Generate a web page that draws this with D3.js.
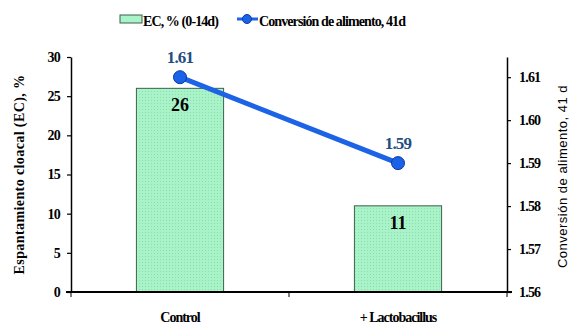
<!DOCTYPE html>
<html>
<head>
<meta charset="utf-8">
<script src="https://cdn.jsdelivr.net/npm/d3@7"></script>
<style>
  html, body { margin: 0; padding: 0; background: #fff; }
  svg { display: block; }
</style>
</head>
<body>
<svg id="chart" width="576" height="336"></svg>
<script>
// Categories and series
const categories = ["Control", "+ Lactobacillus"];
const ecValues = [26, 11];             // Espantamiento cloacal (EC), %
const conversionValues = [1.61, 1.59]; // Conversión de alimento, 41d
const leftTicks = [0, 5, 10, 15, 20, 25, 30];
const rightTicks = [1.56, 1.57, 1.58, 1.59, 1.60, 1.61];
const legendLabels = ["EC, % (0-14d)", "Conversión de alimento, 41d"];

const SERIF = "'Liberation Serif', 'Times New Roman', serif";
const SANS = "'Liberation Sans', Arial, sans-serif";
const serif = sel => sel.style("font-family", SERIF).style("font-weight", "bold");

const svg = d3.select("#chart");
const x0 = 71, x1 = 507;
const y0 = 292, y1 = 57;

const band = d3.scaleBand().domain(categories).range([x0, x1]);
const yL = d3.scaleLinear().domain([0, 30]).range([y0, y1]);
const yR = d3.scaleLinear().domain([1.56, 1.6147]).range([y0, y1]);

// Dotted texture for the bars
const defs = svg.append("defs");
const pat = defs.append("pattern").attr("id", "dots").attr("width", 3).attr("height", 3)
  .attr("patternUnits", "userSpaceOnUse");
pat.append("rect").attr("width", 3).attr("height", 3).attr("fill", "#a9f3c9");
pat.append("rect").attr("x", 1).attr("y", 1).attr("width", 1).attr("height", 1).attr("fill", "#90dcb1");

// Bars
const barW = band.bandwidth() * 0.4;
const cx = d => band(d) + band.bandwidth() / 2;
svg.append("g").selectAll("rect").data(categories).join("rect")
  .attr("x", d => cx(d) - barW / 2)
  .attr("y", (d, i) => yL(ecValues[i]))
  .attr("width", barW)
  .attr("height", (d, i) => yL(0) - yL(ecValues[i]))
  .attr("fill", "url(#dots)")
  .attr("stroke", "#3d5f4c")
  .attr("stroke-width", 1);

// Bar value labels
svg.append("g").selectAll("text").data(categories).join("text")
  .call(serif)
  .attr("x", cx)
  .attr("y", (d, i) => yL(ecValues[i]) + 23)
  .attr("text-anchor", "middle")
  .attr("font-size", 18)
  .attr("fill", "#000")
  .text((d, i) => ecValues[i]);

// Left axis
const axL = svg.append("g").attr("transform", `translate(${x0},0)`)
  .call(d3.axisLeft(yL).tickValues(leftTicks).tickSize(4).tickSizeOuter(0));
// Right axis
const axR = svg.append("g").attr("transform", `translate(${x1},0)`)
  .call(d3.axisRight(yR).tickValues(rightTicks).tickFormat(d3.format(".2f")).tickSize(4).tickSizeOuter(0));
// Bottom axis labels
const axB = svg.append("g").attr("transform", `translate(0,${y0})`)
  .call(d3.axisBottom(band).tickSize(0).tickFormat(d => d));
axB.select(".domain").remove();
svg.append("line").attr("x1", x0 - 5).attr("x2", x1 + 5).attr("y1", y0).attr("y2", y0)
  .attr("stroke", "#000").attr("stroke-width", 2);
// category boundary ticks
svg.append("g").selectAll("line").data([x0, band(categories[1]), x1]).join("line")
  .attr("x1", d => d).attr("x2", d => d).attr("y1", y0).attr("y2", y0 + 5)
  .attr("stroke", "#000").attr("stroke-width", 1);

[axL, axR].forEach(a => {
  a.select(".domain").attr("stroke-width", 1.5);
  a.selectAll(".tick line").attr("stroke-width", 1.2);
  a.selectAll(".tick text").call(serif).attr("font-size", 14).attr("fill", "#000")
    .attr("letter-spacing", -0.8);
});
axL.selectAll(".tick text").attr("x", -11);
axR.selectAll(".tick text").attr("x", 12);
axB.selectAll(".tick text").call(serif).attr("font-size", 14).attr("fill", "#000")
  .attr("y", 20).attr("letter-spacing", -1);

// Line series
const pts = categories.map((c, i) => [cx(c), yR(conversionValues[i])]);
svg.append("path").attr("d", d3.line()(pts)).attr("fill", "none")
  .attr("stroke", "#1d63e6").attr("stroke-width", 5);
svg.append("g").selectAll("circle").data(pts).join("circle")
  .attr("cx", d => d[0]).attr("cy", d => d[1]).attr("r", 6.5)
  .attr("fill", "#1a63e8").attr("stroke", "#0d3aa0").attr("stroke-width", 1);
svg.append("g").selectAll("text").data(pts).join("text")
  .call(serif)
  .attr("x", d => d[0]).attr("y", d => d[1] - 14)
  .attr("text-anchor", "middle").attr("font-size", 17)
  .attr("fill", "#1f4f80").attr("letter-spacing", -0.8)
  .text((d, i) => d3.format(".2f")(conversionValues[i]));

// Axis titles
svg.append("text").call(serif)
  .attr("transform", `translate(24,${(y0 + y1) / 2}) rotate(-90)`)
  .attr("text-anchor", "middle").attr("font-size", 14).attr("letter-spacing", 0.4)
  .text("Espantamiento cloacal (EC), %");
svg.append("text")
  .attr("transform", `translate(567,${(y0 + y1) / 2 + 2}) rotate(-90)`)
  .attr("text-anchor", "middle")
  .style("font-family", SANS).attr("font-size", 13)
  .attr("letter-spacing", 0.5)
  .text("Conversión de alimento, 41 d");

// Legend
const lg = svg.append("g").attr("transform", "translate(0,22)");
lg.append("rect").attr("x", 120).attr("y", -7).attr("width", 22).attr("height", 8)
  .attr("fill", "#a9f3c9").attr("stroke", "#3d5f4c").attr("stroke-width", 1);
lg.append("text").call(serif).attr("x", 143).attr("y", 4)
  .attr("font-size", 14).attr("letter-spacing", -0.9).text(legendLabels[0]);
lg.append("line").attr("x1", 237).attr("x2", 258).attr("y1", -3).attr("y2", -3)
  .attr("stroke", "#1d63e6").attr("stroke-width", 3);
lg.append("circle").attr("cx", 247).attr("cy", -3).attr("r", 4.5)
  .attr("fill", "#1a63e8").attr("stroke", "#0d3aa0").attr("stroke-width", 1);
lg.append("text").call(serif).attr("x", 259).attr("y", 4)
  .attr("font-size", 14).attr("letter-spacing", -0.9).text(legendLabels[1]);
</script>
</body>
</html>
